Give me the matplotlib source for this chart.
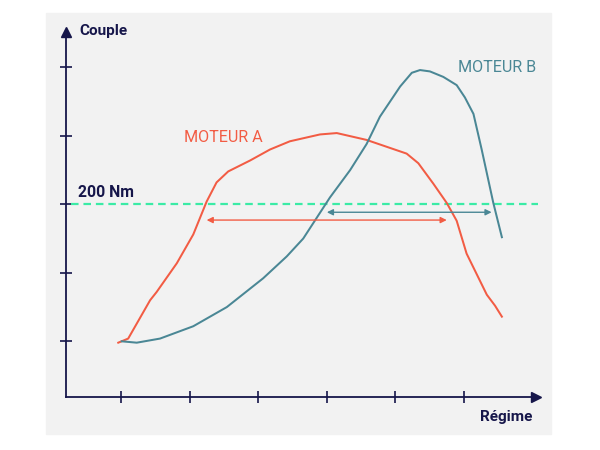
import matplotlib.pyplot as plt
from matplotlib.patches import Rectangle

plt.rcParams['font.family'] = ['Roboto', 'DejaVu Sans']

# courbes (tr/min, Nm)
regime_a = [960, 1105, 1425, 1520, 1815, 2055, 2250, 2395, 2565, 2885, 3175, 3465,
            3905, 4150, 4585, 5170, 5340, 5560, 5755, 5900, 6045, 6340, 6460, 6560]
couple_a = [99, 102, 130, 136, 157, 178, 202, 216, 224, 232, 240, 246,
            251, 252, 247, 237, 230, 215, 201, 188, 164, 134, 126, 118]

regime_b = [1010, 1230, 1570, 2055, 2545, 3075, 3420, 3660, 3855, 4050, 4345, 4585,
            4780, 5075, 5245, 5365, 5510, 5705, 5900, 6020, 6145, 6265, 6435, 6560]
couple_b = [100, 99, 102, 111, 125, 146, 162, 175, 190, 205, 225, 244,
            264, 286, 296, 298, 297, 293, 287, 278, 266, 240, 201, 176]

seuil = 200
plage_a = [2250, 5755]
plage_b = [4005, 6410]
fleche_y_a = 188.5
fleche_y_b = 194.2
graduations_x = [1000, 2000, 3000, 4000, 5000, 6000]
graduations_y = [100, 150, 200, 250, 300]

rouge = "#F25C44"
bleu = "#4A8795"
marine = "#16164A"
vert = "#3BEBA6"

fig = plt.figure(figsize=(6, 4.5), dpi=100)
fig.patches.append(Rectangle((46 / 600, 16 / 450), 505 / 600, 421 / 450,
                             transform=fig.transFigure, color="#F2F2F2", zorder=-1))

ax = fig.add_axes([66 / 600, 53 / 450, 470 / 600, 365 / 450])
ax.set_zorder(1)
ax.set_facecolor("none")
ax.set_xlim(197, 7058)
ax.set_ylim(59.35, 59.35 + 365 / 68.5 * 50)

for s in ["top", "right"]:
    ax.spines[s].set_visible(False)
for s in ["left", "bottom"]:
    ax.spines[s].set_color(marine)
    ax.spines[s].set_linewidth(1.3)
# flèches des axes
ax.plot(1, 0, ">", color=marine, ms=7, transform=ax.transAxes, clip_on=False)
ax.plot(0, 1, "^", color=marine, ms=7, transform=ax.transAxes, clip_on=False)

ax.set_xticks(graduations_x)
ax.set_yticks(graduations_y)
ax.set_xticklabels([])
ax.set_yticklabels([])
ax.tick_params(direction="inout", length=8, width=1.2, color=marine)

ax.axhline(seuil, xmin=0.01, xmax=1.005, color=vert, lw=1.6, dashes=(3.4, 2.2), clip_on=False)

ax.plot(regime_a, couple_a, color=rouge, lw=1.45)
ax.plot(regime_b, couple_b, color=bleu, lw=1.45)

ax.annotate("", xy=(plage_a[0], fleche_y_a), xytext=(plage_a[1], fleche_y_a),
            arrowprops=dict(arrowstyle="<|-|>", color=rouge, lw=1, mutation_scale=9,
                            shrinkA=0, shrinkB=0))
ax.annotate("", xy=(plage_b[0], fleche_y_b), xytext=(plage_b[1], fleche_y_b),
            arrowprops=dict(arrowstyle="<|-|>", color=bleu, lw=1, mutation_scale=9,
                            shrinkA=0, shrinkB=0))

fig.text(79 / 600, 1 - 31 / 450, "Couple", color=marine, fontsize=11, fontweight="bold", va="center")
fig.text(78 / 600, 1 - 192 / 450, "200 Nm", color=marine, fontsize=11.3, fontweight="bold", va="center")
fig.text(532 / 600, 1 - 417 / 450, "Régime", color=marine, fontsize=11, fontweight="bold",
         va="center", ha="right")
fig.text(184 / 600, 1 - 137 / 450, "MOTEUR A", color=rouge, fontsize=11.6, va="center")
fig.text(458 / 600, 1 - 68 / 450, "MOTEUR B", color=bleu, fontsize=11.6, va="center")

fig.savefig("out.png", dpi=100, facecolor="white")
